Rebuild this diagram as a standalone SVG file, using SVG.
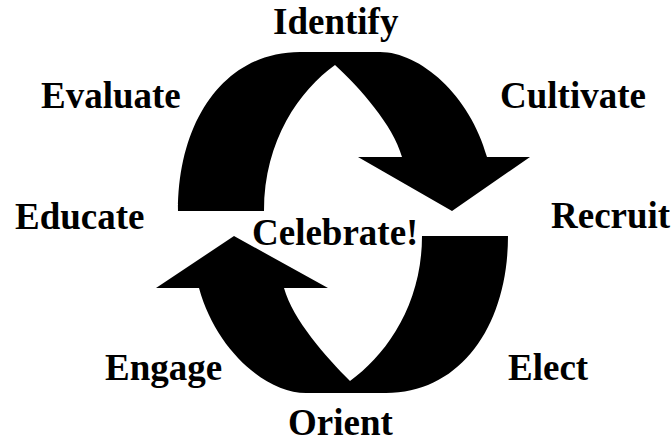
<svg xmlns="http://www.w3.org/2000/svg" width="671" height="442" viewBox="0 0 671 442">
<style>
.lbl{font-family:"Liberation Serif","Times New Roman",serif;font-weight:bold;font-size:37px;fill:#000}
.arr{fill:#000;stroke:none}
</style>
<rect width="671" height="442" fill="#fff"/>
<g id="connectors">
<path id="arrow-top" class="arr" d="M178,211 C178,120 225,52 300,52 L380,52 C420,52 470,95 487,157 L530,157 L452,211 L358,157 L402,157 C393,125 360,88 335,65 C300,90 264,140 264,211 Z"/>
<path id="arrow-bottom" class="arr" d="M508,236 C508,325 461,393 386,393 L306,393 C266,393 216,350 199,288 L156,288 L234,236 L328,288 L284,288 C293,320 326,357 350,381 C386,355 422,305 422,236 Z"/>
</g>
<g id="identify"><text class="lbl" x="273" y="34">Identify</text></g>
<g id="cultivate"><text class="lbl" x="500" y="108">Cultivate</text></g>
<g id="recruit"><text class="lbl" x="551" y="228">Recruit</text></g>
<g id="elect"><text class="lbl" x="508" y="380">Elect</text></g>
<g id="orient"><text class="lbl" x="288" y="435">Orient</text></g>
<g id="engage"><text class="lbl" x="105" y="380">Engage</text></g>
<g id="educate"><text class="lbl" x="15" y="229">Educate</text></g>
<g id="evaluate"><text class="lbl" x="41" y="108">Evaluate</text></g>
<g id="celebrate"><text class="lbl" x="252" y="245">Celebrate!</text></g>
</svg>
